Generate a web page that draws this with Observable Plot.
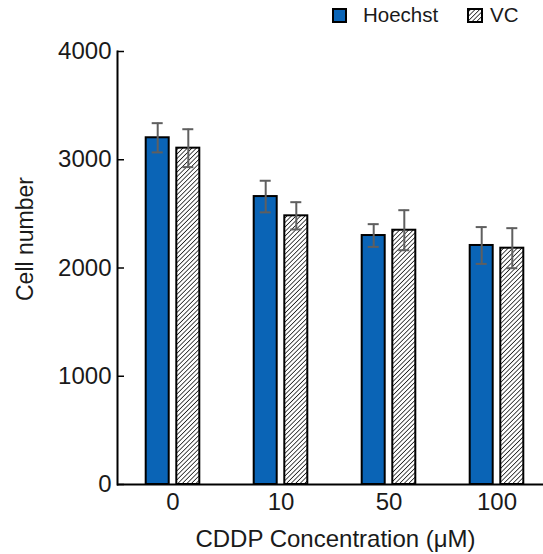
<!DOCTYPE html>
<html>
<head>
<meta charset="utf-8">
<script src="https://cdn.jsdelivr.net/npm/d3@7"></script>
<script src="https://cdn.jsdelivr.net/npm/@observablehq/plot@0.6"></script>
<style>
  body { margin: 0; background: #fff; font-family: "Liberation Sans", Arial, sans-serif; }
  #legend { position: relative; height: 30px; width: 543px; }
  #legend .sw { position: absolute; top: 8px; }
  #legend .lab { position: absolute; top: 3px; font-size: 20.5px; color: #1a1a1a; line-height: 24px; }
  #chart svg { display: block; }
</style>
</head>
<body>
<div id="legend"></div>
<div id="chart"></div>
<script>
const concentrations = ["0", "10", "50", "100"];
const seriesNames = ["Hoechst", "VC"];
const hoechstValues = [3203, 2660, 2300, 2208];
const hoechstErrors = [135, 146, 105, 170];
const vcValues = [3107, 2482, 2349, 2183];
const vcErrors = [175, 126, 185, 185];
const yTicks = [0, 1000, 2000, 3000, 4000];
const xTitle = "CDDP Concentration (μM)";
const yTitle = "Cell number";

const blue = "#0a64b6";
const errColor = "#5f5f5f";

const rows = [];
concentrations.forEach((c, i) => {
  rows.push({conc: c, series: seriesNames[0], value: hoechstValues[i], err: hoechstErrors[i]});
  rows.push({conc: c, series: seriesNames[1], value: vcValues[i], err: vcErrors[i]});
});
const hRows = rows.filter(d => d.series === seriesNames[0]);
const vRows = rows.filter(d => d.series === seriesNames[1]);

// Legend (with the hatch pattern definition)
const legend = document.getElementById("legend");
legend.innerHTML = `
  <svg class="sw" style="left:332px" width="16" height="16">
    <rect x="1" y="1" width="13" height="13" fill="${blue}" stroke="#000" stroke-width="2"/>
  </svg>
  <span class="lab" style="left:363px">${seriesNames[0]}</span>
  <svg class="sw" style="left:467px" width="18" height="16">
    <defs>
      <pattern id="hatch" patternUnits="userSpaceOnUse" width="3.2" height="3.2" patternTransform="rotate(45)">
        <rect width="3.2" height="3.2" fill="#fff"/>
        <line x1="0" y1="0" x2="0" y2="3.2" stroke="#000" stroke-width="1.4"/>
      </pattern>
    </defs>
    <rect x="1" y="1" width="14" height="13" fill="url(#hatch)" stroke="#000" stroke-width="2"/>
  </svg>
  <span class="lab" style="left:490px">${seriesNames[1]}</span>
`;

const off = 15.3;
const plot = Plot.plot({
  width: 543,
  height: 524,
  marginTop: 21,
  marginBottom: 70,
  marginLeft: 117,
  marginRight: 0,
  style: {fontFamily: "'Liberation Sans', Arial, sans-serif", color: "#1a1a1a", background: "#fff"},
  x: {domain: concentrations, range: [118, 551], paddingInner: 0.788, paddingOuter: 0.392},
  y: {domain: [0, 4000]},
  marks: [
    Plot.barY(hRows, {x: "conc", y: "value", dx: -off, fill: blue, stroke: "#000", strokeWidth: 2}),
    Plot.barY(vRows, {x: "conc", y: "value", dx: off, fill: "url(#hatch)", stroke: "#000", strokeWidth: 2}),
    Plot.ruleX(hRows, {x: "conc", y1: d => d.value - d.err, y2: d => d.value + d.err, dx: -off, stroke: errColor, strokeWidth: 2}),
    Plot.tickY(hRows, {x: "conc", y: d => d.value + d.err, dx: -off, insetLeft: 6, insetRight: 6, stroke: errColor, strokeWidth: 2}),
    Plot.tickY(hRows, {x: "conc", y: d => d.value - d.err, dx: -off, insetLeft: 6, insetRight: 6, stroke: errColor, strokeWidth: 2}),
    Plot.ruleX(vRows, {x: "conc", y1: d => d.value - d.err, y2: d => d.value + d.err, dx: off, stroke: errColor, strokeWidth: 2}),
    Plot.tickY(vRows, {x: "conc", y: d => d.value + d.err, dx: off, insetLeft: 6, insetRight: 6, stroke: errColor, strokeWidth: 2}),
    Plot.tickY(vRows, {x: "conc", y: d => d.value - d.err, dx: off, insetLeft: 6, insetRight: 6, stroke: errColor, strokeWidth: 2}),
    Plot.axisY(yTicks, {tickSize: -7, tickPadding: 13, strokeWidth: 1.5, stroke: "#000", fontSize: 24, tickFormat: d => String(d), label: null}),
    Plot.axisX({tickSize: 0, tickPadding: 8, fontSize: 24, label: null}),
    Plot.frame({anchor: "left", stroke: "#000", strokeWidth: 2}),
    Plot.ruleY([0], {stroke: "#000", strokeWidth: 2}),
    Plot.text([yTitle], {frameAnchor: "left", textAnchor: "middle", lineAnchor: "middle", dx: -92, dy: -29, rotate: -90, fontSize: 23, fill: "#1a1a1a"}),
    Plot.text([xTitle], {frameAnchor: "bottom", textAnchor: "middle", lineAnchor: "middle", dx: 5, dy: 55, fontSize: 24, fill: "#1a1a1a"})
  ]
});
document.getElementById("chart").appendChild(plot);
</script>
</body>
</html>
